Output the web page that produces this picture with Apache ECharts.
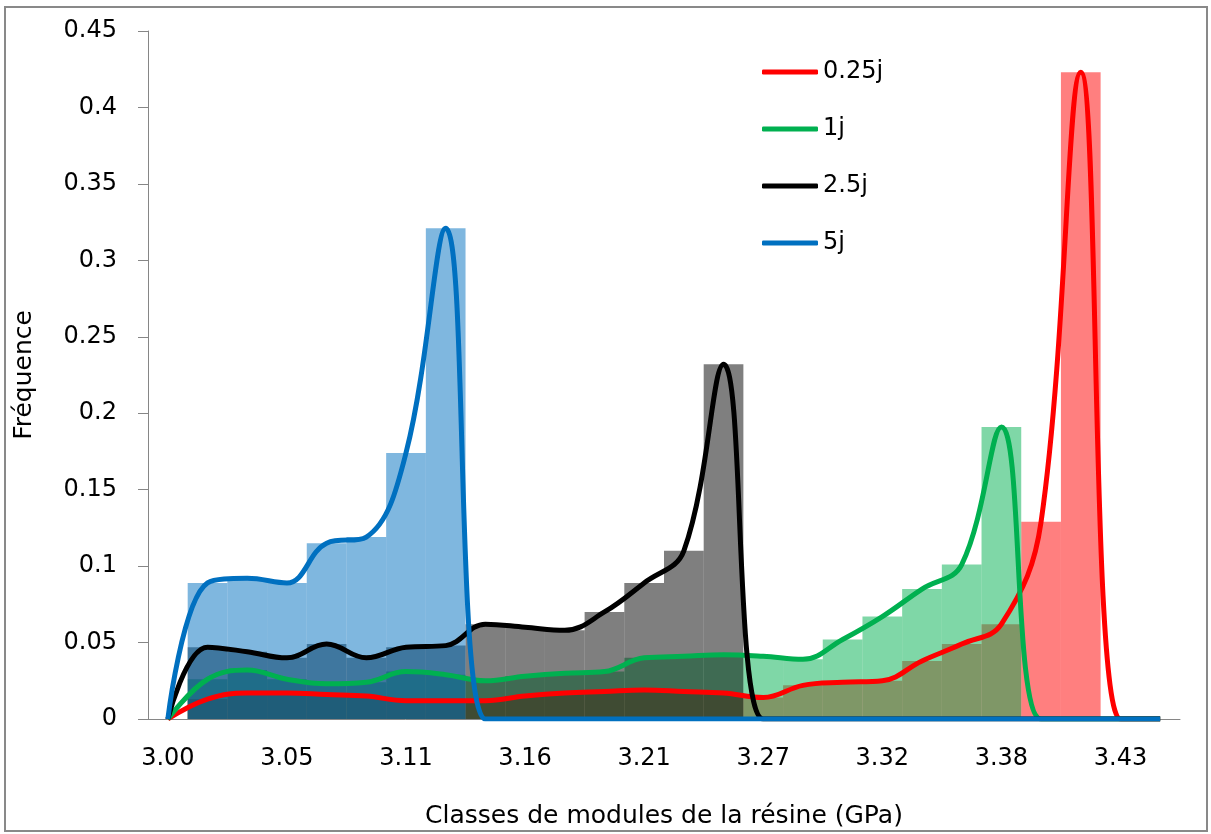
<!DOCTYPE html>
<html>
<head>
<meta charset="utf-8">
<title>Fréquence des classes de modules</title>
<script src="https://cdn.jsdelivr.net/npm/echarts@6/dist/echarts.min.js"></script>
<style>
  html, body { margin: 0; padding: 0; background: #fff; }
  #chart { width: 1211px; height: 834px; }
</style>
</head>
<body>
<div id="chart"></div>
<script>
// classes de modules (GPa), une par barre
const classes = ['3.00', '3.02', '3.04', '3.05', '3.07', '3.09', '3.11', '3.13', '3.14',
  '3.16', '3.18', '3.20', '3.21', '3.23', '3.25', '3.27', '3.29', '3.30', '3.32',
  '3.34', '3.36', '3.38', '3.39', '3.41', '3.43', '3.45']

// fréquences
const freq025j = [0, 0.013, 0.017, 0.017, 0.016, 0.015, 0.012, 0.012, 0.012, 0.015, 0.017, 0.018, 0.019,
  0.018, 0.017, 0.014, 0.022, 0.024, 0.025, 0.038, 0.049, 0.062, 0.129, 0.423, 0, 0]
const freq1j = [0, 0.026, 0.032, 0.026, 0.023, 0.024, 0.031, 0.029, 0.025, 0.028, 0.030, 0.031, 0.040,
  0.041, 0.042, 0.041, 0.039, 0.052, 0.067, 0.085, 0.101, 0.191, 0, 0, 0, 0]
const freq25j = [0, 0.047, 0.044, 0.040, 0.049, 0.040, 0.047, 0.048, 0.062, 0.060, 0.058, 0.070, 0.089,
  0.110, 0.232, 0, 0, 0, 0, 0, 0, 0, 0, 0, 0, 0]
const freq5j = [0, 0.089, 0.092, 0.089, 0.115, 0.119, 0.174, 0.321, 0, 0, 0, 0, 0,
  0, 0, 0, 0, 0, 0, 0, 0, 0, 0, 0, 0, 0]

const seriesNames = ['0.25j', '1j', '2.5j', '5j']
const seriesData = [freq025j, freq1j, freq25j, freq5j]
const colorList = ['#ff0000', '#00b050', '#000000', '#0070c0']
const barColorList = ['rgba(255,0,0,0.5)', 'rgba(0,176,80,0.5)', 'rgba(0,0,0,0.5)', 'rgba(0,112,192,0.5)']

const chart = echarts.init(document.getElementById('chart'), null, { renderer: 'canvas' })

// histogrammes superposés (barres transparentes)
const bars = seriesData.map((d, i) => ({
  name: 'hist ' + seriesNames[i],
  type: 'bar',
  data: d,
  barWidth: '100%',
  barGap: '-100%',
  itemStyle: { color: barColorList[i] },
  silent: true
}))

// courbes lissées par-dessus
const lines = seriesData.map((d, i) => ({
  name: seriesNames[i],
  type: 'line',
  data: d,
  smooth: 0.4,
  symbol: 'none',
  lineStyle: { color: colorList[i], width: 5 },
  itemStyle: { color: colorList[i] }
}))

chart.setOption({
  animation: false,
  textStyle: { fontFamily: 'DejaVu Sans' },
  graphic: [{
    type: 'rect',
    silent: true,
    shape: { x: 5, y: 7, width: 1202, height: 824 },
    style: { fill: 'none', stroke: '#898989', lineWidth: 2 }
  }],
  grid: {
    left: 148,
    right: 31,
    top: 31,
    bottom: 114
  },
  legend: {
    orient: 'vertical',
    left: 757,
    top: 55,
    icon: 'roundRect',
    itemWidth: 56,
    itemHeight: 5,
    itemGap: 33,
    data: seriesNames,
    textStyle: { fontSize: 24, color: '#000' }
  },
  xAxis: {
    type: 'category',
    data: classes,
    boundaryGap: true,
    name: 'Classes de modules de la résine (GPa)',
    nameLocation: 'middle',
    nameGap: 85,
    nameTextStyle: { fontSize: 25, color: '#000' },
    axisLine: { lineStyle: { color: '#868686', width: 1 } },
    axisTick: { interval: 2, length: 9, lineStyle: { color: '#868686' } },
    axisLabel: { interval: 2, margin: 28, fontSize: 24, color: '#000' },
    splitLine: { show: false }
  },
  yAxis: {
    type: 'value',
    min: 0,
    max: 0.45,
    interval: 0.05,
    name: 'Fréquence',
    nameLocation: 'middle',
    nameGap: 111,
    nameTextStyle: { fontSize: 25, color: '#000' },
    axisLine: { show: true, lineStyle: { color: '#868686', width: 1 } },
    axisTick: { show: true, length: 10, lineStyle: { color: '#868686' } },
    axisLabel: { margin: 31, fontSize: 24, color: '#000' },
    splitLine: { show: false }
  },
  series: bars.concat(lines)
})
</script>
</body>
</html>
